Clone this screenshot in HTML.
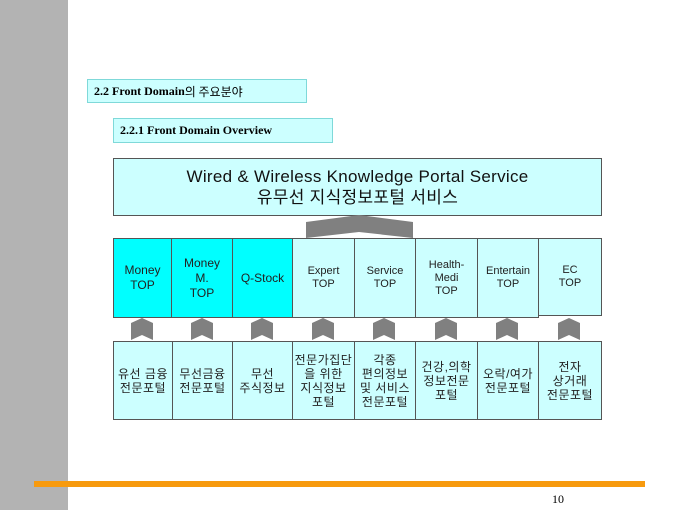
<!DOCTYPE html>
<html><head><meta charset="utf-8"><style>
body{margin:0;width:680px;height:510px;position:relative;background:#fff;overflow:hidden;font-family:"Liberation Sans","Noto Sans CJK KR",sans-serif}
.a{position:absolute}
.hd{position:absolute;background:#ccffff;border:1px solid #7fd9d9;font-family:"Liberation Serif","Noto Serif CJK SC",serif;font-weight:bold;font-size:12px;color:#000;box-sizing:border-box;padding-left:6px;display:flex;align-items:center}
.c{position:absolute;box-sizing:border-box;border:1px solid #555;background:#ccffff;display:flex;align-items:center;justify-content:center;text-align:center;font-size:11px;line-height:13px;color:#222}
.k{font-size:12px;line-height:14px;letter-spacing:0.5px}
.b{background:#00ffff;font-size:12px;line-height:15px}
</style></head><body>
<div class="a" style="left:0;top:0;width:68px;height:510px;background:#b3b3b3"></div>
<div class="hd" style="left:87px;top:79px;width:220px;height:24px">2.2 Front Domain<span style="font-weight:normal;font-family:'Noto Sans CJK KR',sans-serif">의 주요분야</span></div>
<div class="hd" style="left:113px;top:118px;width:220px;height:25px">2.2.1 Front Domain Overview</div>
<div class="c" style="left:113px;top:158px;width:489px;height:58px;font-size:17px;line-height:21px;color:#111;letter-spacing:0.3px">Wired &amp; Wireless Knowledge Portal Service<br>유무선 지식정보포털 서비스</div>
<svg class="a" style="left:0;top:0" width="680" height="510">
<polygon points="306,222 359,215 413,222 413,238 359,232 306,238" fill="#808080"/>
<g fill="#808080">
<polygon points="131,323 142,318 153,323 153,340 142,335 131,340"/>
<polygon points="191,323 202,318 213,323 213,340 202,335 191,340"/>
<polygon points="251,323 262,318 273,323 273,340 262,335 251,340"/>
<polygon points="312,323 323,318 334,323 334,340 323,335 312,340"/>
<polygon points="373,323 384,318 395,323 395,340 384,335 373,340"/>
<polygon points="435,323 446,318 457,323 457,340 446,335 435,340"/>
<polygon points="496,323 507,318 518,323 518,340 507,335 496,340"/>
<polygon points="558,323 569,318 580,323 580,340 569,335 558,340"/>
</g>
<rect x="34" y="481" width="611" height="6" fill="#f79a0e"/>
</svg>
<div class="c b" style="left:113px;top:238px;width:59px;height:80px">Money<br>TOP</div>
<div class="c b" style="left:171px;top:238px;width:62px;height:80px">Money<br>M.<br>TOP</div>
<div class="c b" style="left:232px;top:238px;width:61px;height:80px">Q-Stock</div>
<div class="c" style="left:292px;top:238px;width:63px;height:80px">Expert<br>TOP</div>
<div class="c" style="left:354px;top:238px;width:62px;height:80px">Service<br>TOP</div>
<div class="c" style="left:415px;top:238px;width:63px;height:80px">Health-<br>Medi<br>TOP</div>
<div class="c" style="left:477px;top:238px;width:62px;height:80px">Entertain<br>TOP</div>
<div class="c" style="left:538px;top:238px;width:64px;height:78px">EC<br>TOP</div>
<div class="c k" style="left:113px;top:341px;width:60px;height:79px">유선 금융<br>전문포털</div>
<div class="c k" style="left:172px;top:341px;width:61px;height:79px">무선금융<br>전문포털</div>
<div class="c k" style="left:232px;top:341px;width:61px;height:79px">무선<br>주식정보</div>
<div class="c k" style="left:292px;top:341px;width:63px;height:79px">전문가집단<br>을 위한<br>지식정보<br>포털</div>
<div class="c k" style="left:354px;top:341px;width:62px;height:79px">각종<br>편의정보<br>및 서비스<br>전문포털</div>
<div class="c k" style="left:415px;top:341px;width:63px;height:79px">건강,의학<br>정보전문<br>포털</div>
<div class="c k" style="left:477px;top:341px;width:62px;height:79px">오락/여가<br>전문포털</div>
<div class="c k" style="left:538px;top:341px;width:64px;height:79px">전자<br>상거래<br>전문포털</div>
<div class="a" style="left:552px;top:492px;font-family:'Liberation Serif',serif;font-size:12px">10</div>
</body></html>
